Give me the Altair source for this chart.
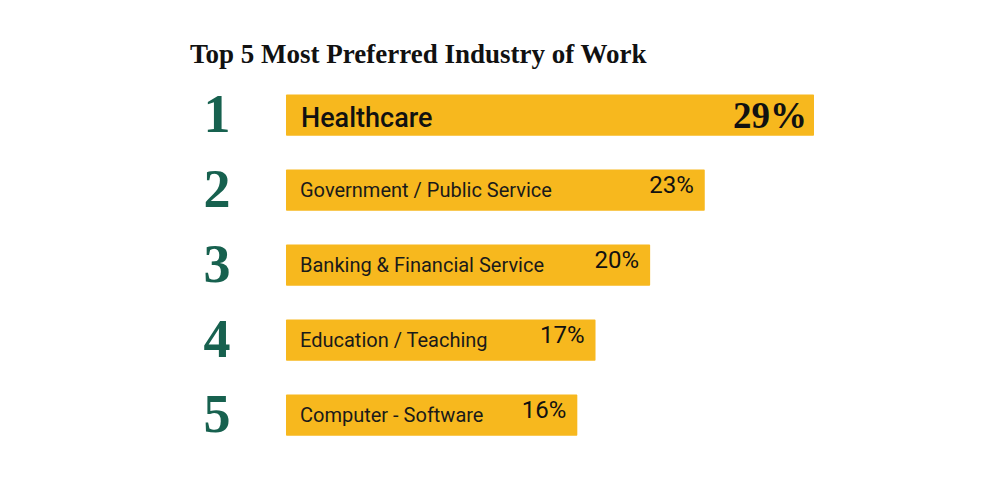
import altair as alt
import pandas as pd

ranks = [1, 2, 3, 4, 5]
industries = ["Healthcare", "Government / Public Service", "Banking & Financial Service",
              "Education / Teaching", "Computer - Software"]
shares = [29, 23, 20, 17, 16]
title_text = "Top 5 Most Preferred  Industry of Work"

df = pd.DataFrame({
    "rank": ranks,
    "industry": industries,
    "share": shares,
    "pct": [f"{v}%" for v in shares],
    "rank_label": [str(r) for r in ranks],
})

BAR = "#F7B81E"
GREEN = "#17614F"

xs = alt.Scale(domain=[0, 29], range=[286, 814])
ys = alt.Scale(domain=ranks, range=[77.5, 452.5], paddingInner=0.45, paddingOuter=0.225)

base = alt.Chart(df)

bars = base.mark_bar(color=BAR, cornerRadius=1).encode(
    x=alt.X("share:Q", scale=xs, axis=None),
    x2=alt.datum(0),
    y=alt.Y("rank:O", scale=ys, axis=None),
)

rank_txt = base.mark_text(font="Liberation Serif", fontWeight="bold", fontSize=54,
                          color=GREEN, align="center", baseline="middle", dy=1).encode(
    x=alt.value(217),
    y=alt.Y("rank:O", scale=ys, axis=None),
    text="rank_label:N",
)

first = df[df["rank"] == 1]
rest = df[df["rank"] != 1]

lab1 = alt.Chart(first).mark_text(font="Roboto", fontWeight=500, fontSize=27, color="#111111",
                                  align="left", baseline="middle", dy=4).encode(
    x=alt.value(301),
    y=alt.Y("rank:O", scale=ys, axis=None),
    text="industry:N",
)
lab = alt.Chart(rest).mark_text(font="Roboto", fontSize=20, color="#1a1a1a",
                                align="left", baseline="middle", dy=1).encode(
    x=alt.value(300),
    y=alt.Y("rank:O", scale=ys, axis=None),
    text="industry:N",
)

pct1 = alt.Chart(first).mark_text(font="Liberation Serif", fontWeight="bold", fontSize=37,
                                  color="#111111", align="right", baseline="middle", dx=-7, dy=2).encode(
    x=alt.X("share:Q", scale=xs, axis=None),
    y=alt.Y("rank:O", scale=ys, axis=None),
    text="pct:N",
)
pct = alt.Chart(rest).mark_text(font="Roboto", fontSize=24, color="#111111",
                                align="right", baseline="middle", dx=-11, dy=-4).encode(
    x=alt.X("share:Q", scale=xs, axis=None),
    y=alt.Y("rank:O", scale=ys, axis=None),
    text="pct:N",
)

title = alt.Chart(pd.DataFrame({"t": [title_text]})).mark_text(
    font="Liberation Serif", fontWeight="bold", fontSize=27, color="#111111",
    align="left", baseline="middle").encode(
    x=alt.value(190), y=alt.value(55), text="t:N")

chart = alt.layer(bars, rank_txt, lab1, lab, pct1, pct, title).properties(
    width=1000, height=490, autosize=alt.AutoSizeParams(type="none"), padding=0,
    background="white",
).configure_view(stroke=None)

chart.save("out.html", embed_options={"renderer": "svg", "actions": False})
